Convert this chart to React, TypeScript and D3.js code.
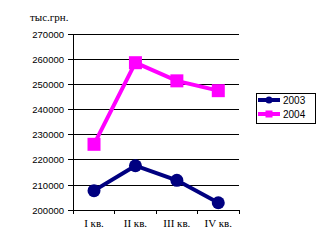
import React from "react";
import * as d3 from "d3";

const categories = ["I кв.", "II кв.", "III кв.", "IV кв."];
const series2003 = [207800, 217700, 211900, 203000];
const series2004 = [226200, 258600, 251400, 247500];
const yTicks = [200000, 210000, 220000, 230000, 240000, 250000, 260000, 270000];
const seriesNames = ["2003", "2004"];
const unitLabel = "тыс.грн.";

export default function App() {
  const W = 321, H = 248;
  const left = 73.3, right = 239, top = 34, bottom = 210.3;
  const x = d3.scaleBand<string>().domain(categories).range([left, right]);
  const y = d3.scaleLinear().domain([200000, 270000]).range([bottom, top]);
  const line = d3.line<number>()
    .x((_, i) => (x(categories[i]) as number) + x.bandwidth() / 2)
    .y((d) => y(d));
  const c2003 = "#000080";
  const c2004 = "#FF00FF";
  const boundaries = categories.map((c) => x(c) as number).concat([right]);
  return (
    <svg width={W} height={H} style={{ position: "absolute", left: 0, top: 0, background: "#fff" }}>
      <text x={30} y={21} fontFamily="Liberation Serif" fontSize={11}>{unitLabel}</text>
      {yTicks.map((t) => (
        <g key={t}>
          <line x1={left - 5} x2={right} y1={y(t)} y2={y(t)} stroke="#000" strokeWidth={1} shapeRendering="crispEdges" />
          <text x={64} y={y(t) + 3.5} textAnchor="end" fontFamily="Liberation Sans" fontSize={9.5}>{t}</text>
        </g>
      ))}
      <line x1={left} x2={left} y1={top} y2={bottom} stroke="#000" strokeWidth={1} shapeRendering="crispEdges" />
      {boundaries.map((b, i) => (
        <line key={i} x1={b} x2={b} y1={bottom} y2={bottom + 4} stroke="#000" strokeWidth={1} shapeRendering="crispEdges" />
      ))}
      {categories.map((c) => (
        <text key={c} x={(x(c) as number) + x.bandwidth() / 2} y={227} textAnchor="middle" fontFamily="Liberation Serif" fontSize={11}>{c}</text>
      ))}
      <path d={line(series2004) || ""} fill="none" stroke={c2004} strokeWidth={4} />
      {series2004.map((v, i) => (
        <rect key={i} x={(x(categories[i]) as number) + x.bandwidth() / 2 - 6.5} y={y(v) - 6.5} width={13} height={13} fill={c2004} />
      ))}
      <path d={line(series2003) || ""} fill="none" stroke={c2003} strokeWidth={4} />
      {series2003.map((v, i) => (
        <circle key={i} cx={(x(categories[i]) as number) + x.bandwidth() / 2} cy={y(v)} r={6.5} fill={c2003} />
      ))}
      <rect x={256.5} y={93.5} width={59} height={30} fill="#fff" stroke="#000" strokeWidth={1} />
      {seriesNames.map((n, i) => {
        const cy = 100 + i * 14;
        const col = i === 0 ? c2003 : c2004;
        return (
          <g key={n}>
            <line x1={258} x2={280} y1={cy} y2={cy} stroke={col} strokeWidth={4} />
            {i === 0 ? <circle cx={269} cy={cy} r={3.5} fill={col} /> : <rect x={265.5} y={cy - 3.5} width={7} height={7} fill={col} />}
            <text x={283} y={cy + 3.5} fontFamily="Liberation Sans" fontSize={10}>{n}</text>
          </g>
        );
      })}
    </svg>
  );
}
